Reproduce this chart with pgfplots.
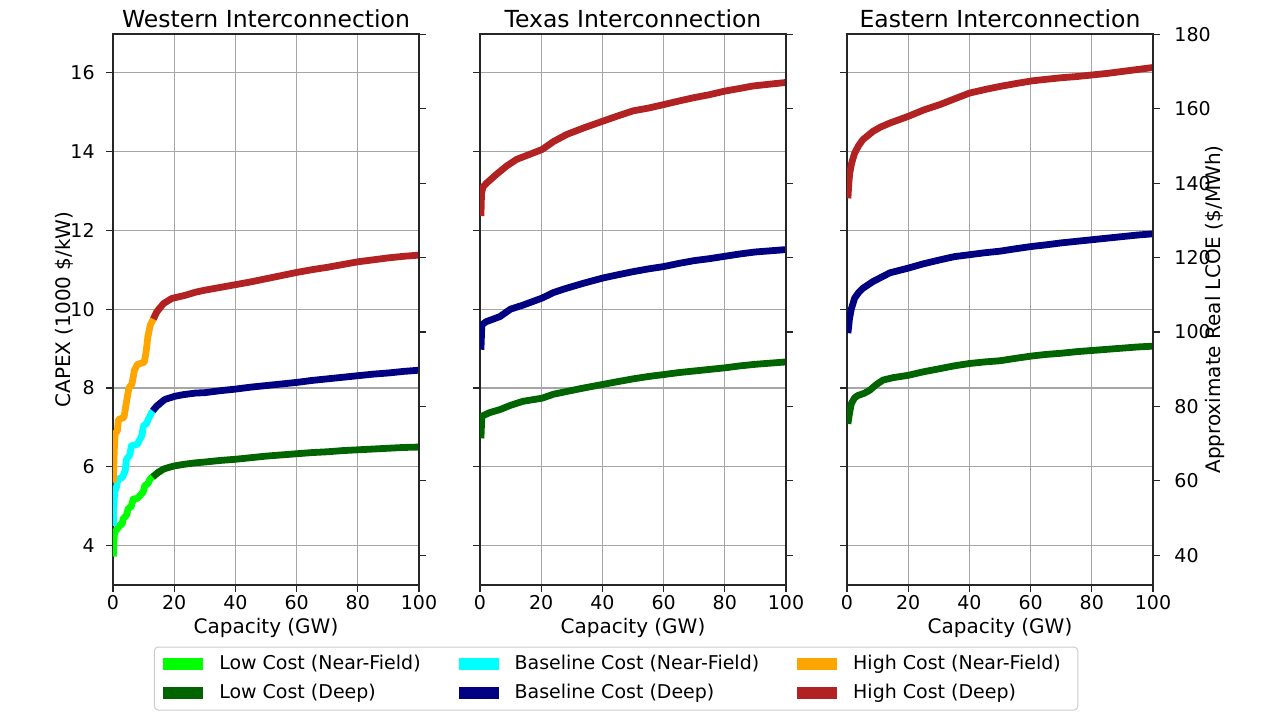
\documentclass[border=0pt]{standalone}
\usepackage{pgfplots}
\pgfplotsset{compat=1.18}
\usepackage{fontspec}
\setmainfont{DejaVu Sans}
\newcommand\tickfont{\fontsize{9.5}{11}\selectfont}
\newcommand\titlefont{\fontsize{11.75}{14}\selectfont}
\definecolor{limeC}{HTML}{00FF00}
\definecolor{dgreenC}{HTML}{006400}
\definecolor{cyanC}{HTML}{00FFFF}
\definecolor{navyC}{HTML}{000080}
\definecolor{orangeC}{HTML}{FFA500}
\definecolor{brickC}{HTML}{B22222}
\pgfplotsset{
  panel/.style={
    scale only axis, width=153pt, height=275.5pt,
    anchor=south west,
    xmin=0, xmax=100, ymin=3, ymax=16.98,
    xtick={0,20,...,100}, ytick={4,6,...,16},
    grid=major, grid style={black!35, line width=0.6pt},
    tick align=outside, tick pos=left, major tick length=3.5pt,
    tick style={black!85, line width=0.6pt},
    axis line style={black!85, line width=0.6pt},
    /pgf/number format/assume math mode=true,
    tick label style={font=\tickfont, text=black},
    xticklabel style={anchor=north, inner sep=0pt, yshift=-1.5pt},
    yticklabel style={anchor=east, inner sep=0pt, xshift=-5.5pt},
    label style={font=\tickfont},
    every axis x label/.style={at={(axis description cs:0.5,0)}, anchor=base, yshift=-24pt},
    every axis title/.style={font=\titlefont, anchor=base, at={(axis description cs:0.5,1)}, yshift=3.5pt},
    every axis plot/.append style={line width=3.4pt, line join=round, forget plot},
  },
  twin/.style={
    scale only axis, width=153pt, height=275.5pt,
    anchor=south west,
    xmin=0, xmax=100, ymin=32.0, ymax=180.1,
    axis x line=none, axis y line*=right,
    ytick={40,60,...,180},
    tick align=outside, major tick length=3.5pt,
    tick style={black!85, line width=0.6pt},
    axis line style={black!85, line width=0.6pt},
    /pgf/number format/assume math mode=true,
    tick label style={font=\tickfont, text=black},
    yticklabel style={anchor=west, inner sep=0pt, xshift=7pt},
    label style={font=\tickfont},
  },
}
\begin{document}
\begin{tikzpicture}
\useasboundingbox (0,0) rectangle (640pt,360pt);
% ---------------- Western ----------------
\begin{axis}[panel, at={(56.5pt,67.5pt)},
  title={Western Interconnection},
  xlabel={Capacity (GW)},
  ylabel={CAPEX (1000 \$/kW)},
  every axis y label/.style={at={(axis description cs:-0.160,0.5)}, rotate=90, anchor=center},
  legend columns=3,
  legend cell align=left,
  legend image code/.code={\path[#1, draw=none, sharp corners] (0pt,-3pt) rectangle (20pt,3pt);\path[draw=none, fill=none] (0pt,-3pt) rectangle (24pt,3pt);},
  legend style={at={(axis description cs:1.644,-0.1697)}, anchor=center,
    draw=black!20, rounded corners=2pt, line width=0.5pt, fill=white,
    font=\tickfont, inner xsep=4.5pt, inner ysep=3pt,
    nodes={inner ysep=1pt, inner xsep=4pt, text height=7pt, text depth=2pt},
    row sep=3.5pt,
    /tikz/every even column/.append style={column sep=15pt}},
]
\addplot[color=limeC] coordinates {(0.1,3.72) (0.3,4.1) (0.5,4.34) (1.2,4.40) (2.2,4.51) (3.0,4.55) (3.3,4.68) (4.5,4.78) (4.9,4.93) (6.0,5.0) (6.6,5.18) (8.0,5.2) (8.8,5.27) (9.8,5.35) (10.4,5.52) (11.5,5.58) (12.1,5.69) (13.5,5.78) (14.8,5.86) (16,5.9)};
\addplot[color=dgreenC] coordinates {(13,5.74) (14.8,5.86) (16.5,5.94) (18.1,5.98) (20,6.02) (23,6.06) (27,6.1) (30,6.12) (35,6.16) (40,6.19) (45,6.23) (50,6.27) (55,6.3) (60,6.33) (65,6.36) (70,6.38) (75,6.41) (80,6.43) (85,6.45) (90,6.47) (95,6.49) (100,6.5)};
\addplot[color=cyanC] coordinates {(0.1,4.5) (0.3,5.0) (0.5,5.35) (1.2,5.5) (1.6,5.69) (3.0,5.72) (3.3,5.77) (4.0,5.9) (4.4,6.19) (5.5,6.3) (6.0,6.53) (8.0,6.57) (8.2,6.61) (9.5,6.8) (9.9,7.03) (11.0,7.1) (11.5,7.2) (12.6,7.37) (14.3,7.54) (15.5,7.6)};
\addplot[color=navyC] coordinates {(13,7.42) (14.3,7.54) (16,7.65) (17,7.71) (20.3,7.79) (23,7.83) (27,7.87) (30,7.88) (35,7.93) (40,7.97) (45,8.02) (50,8.06) (55,8.1) (60,8.14) (65,8.19) (70,8.23) (75,8.27) (80,8.31) (85,8.35) (90,8.38) (95,8.42) (100,8.45)};
\addplot[color=orangeC] coordinates {(0.1,5.6) (0.4,6.4) (0.7,6.85) (1.4,6.9) (1.8,7.2) (3.6,7.25) (4.3,7.6) (5.2,8.0) (6.2,8.1) (7.0,8.45) (8.0,8.6) (10.2,8.65) (10.8,8.9) (11.4,9.3) (12.2,9.6) (13.2,9.75) (14.3,9.93) (15.5,10.05)};
\addplot[color=brickC] coordinates {(13.2,9.75) (14.3,9.93) (16.5,10.14) (19.2,10.27) (23.6,10.35) (27,10.43) (30,10.48) (35,10.55) (40,10.62) (45,10.69) (50,10.77) (55,10.85) (60,10.93) (65,11.0) (70,11.06) (75,11.13) (80,11.2) (85,11.25) (90,11.3) (95,11.34) (100,11.37)};
\addlegendimage{fill=limeC}
\addlegendentry{Low Cost (Near-Field)}
\addlegendimage{fill=cyanC}
\addlegendentry{Baseline Cost (Near-Field)}
\addlegendimage{fill=orangeC}
\addlegendentry{High Cost (Near-Field)}
\addlegendimage{fill=dgreenC}
\addlegendentry{Low Cost (Deep)}
\addlegendimage{fill=navyC}
\addlegendentry{Baseline Cost (Deep)}
\addlegendimage{fill=brickC}
\addlegendentry{High Cost (Deep)}
\end{axis}
\begin{axis}[twin, at={(56.5pt,67.5pt)}, yticklabels={}]
\end{axis}
% ---------------- Texas ----------------
\begin{axis}[panel, at={(240pt,67.5pt)},
  title={Texas Interconnection},
  xlabel={Capacity (GW)},
  yticklabels={},
]
\addplot[color=dgreenC] coordinates {(0.3,6.72) (0.6,7.28) (3,7.37) (6.5,7.45) (10,7.56) (14,7.66) (20.3,7.74) (24,7.84) (28.3,7.91) (34,8.0) (40.2,8.09) (45,8.16) (50,8.23) (55,8.29) (60.1,8.34) (65,8.39) (70,8.43) (75,8.47) (80,8.51) (85,8.56) (90,8.6) (95,8.63) (100,8.66)};
\addplot[color=navyC] coordinates {(0.3,8.97) (0.6,9.6) (2,9.68) (6.5,9.81) (10,10.0) (14,10.1) (20.3,10.28) (24,10.42) (28.3,10.53) (34,10.66) (40.2,10.79) (45,10.87) (50,10.95) (55,11.02) (60.1,11.08) (65,11.16) (70,11.23) (75,11.28) (80,11.34) (85,11.4) (90,11.45) (95,11.48) (100,11.51)};
\addplot[color=brickC] coordinates {(0.3,12.36) (0.5,12.95) (1,13.1) (2.2,13.2) (5.4,13.42) (8.7,13.63) (12,13.8) (16,13.92) (20.3,14.05) (24,14.25) (28.3,14.43) (34,14.6) (40.2,14.77) (45,14.9) (50,15.03) (55,15.1) (60.1,15.19) (65,15.28) (69.6,15.36) (75,15.44) (79.9,15.53) (85,15.6) (89.1,15.66) (95,15.71) (100,15.75)};
\end{axis}
\begin{axis}[twin, at={(240pt,67.5pt)}, yticklabels={}]
\end{axis}
% ---------------- Eastern ----------------
\begin{axis}[panel, at={(423.5pt,67.5pt)},
  title={Eastern Interconnection},
  xlabel={Capacity (GW)},
  yticklabels={},
]
\addplot[color=dgreenC] coordinates {(0.3,7.09) (0.8,7.35) (1.4,7.6) (2.5,7.75) (3.6,7.81) (5.5,7.86) (7.4,7.94) (9.5,8.08) (11.8,8.2) (15,8.26) (20,8.32) (25,8.41) (30.4,8.49) (35,8.56) (40,8.62) (45,8.66) (50,8.69) (55,8.75) (60.4,8.81) (65,8.85) (70,8.88) (75,8.92) (80,8.95) (85,8.98) (90,9.01) (95,9.04) (100,9.06)};
\addplot[color=navyC] coordinates {(0.3,9.39) (0.8,9.75) (1.4,10.0) (2.5,10.28) (3.8,10.42) (5.2,10.53) (8.5,10.7) (11,10.8) (14,10.92) (20,11.04) (25,11.15) (30.4,11.25) (35,11.33) (40,11.38) (45,11.43) (50,11.47) (55,11.53) (60.4,11.59) (65,11.63) (70,11.68) (75,11.72) (80,11.76) (85,11.8) (90,11.84) (95,11.88) (100,11.91)};
\addplot[color=brickC] coordinates {(0.3,12.81) (0.6,13.2) (0.9,13.45) (1.5,13.7) (2.5,13.96) (3.8,14.15) (5.2,14.3) (8.5,14.51) (11,14.62) (14,14.72) (20,14.89) (25,15.05) (30.4,15.19) (35,15.33) (40,15.48) (45,15.57) (50,15.65) (55,15.72) (60.4,15.79) (65,15.83) (70,15.87) (75,15.9) (80,15.94) (85,15.98) (90,16.03) (95,16.08) (100,16.13)};
\end{axis}
\begin{axis}[twin, at={(423.5pt,67.5pt)},
  ylabel={Approximate Real LCOE (\$/MWh)},
  every axis y label/.style={at={(axis description cs:1.2026,0.5)}, rotate=90, anchor=center},
]
\end{axis}
\end{tikzpicture}
\end{document}
